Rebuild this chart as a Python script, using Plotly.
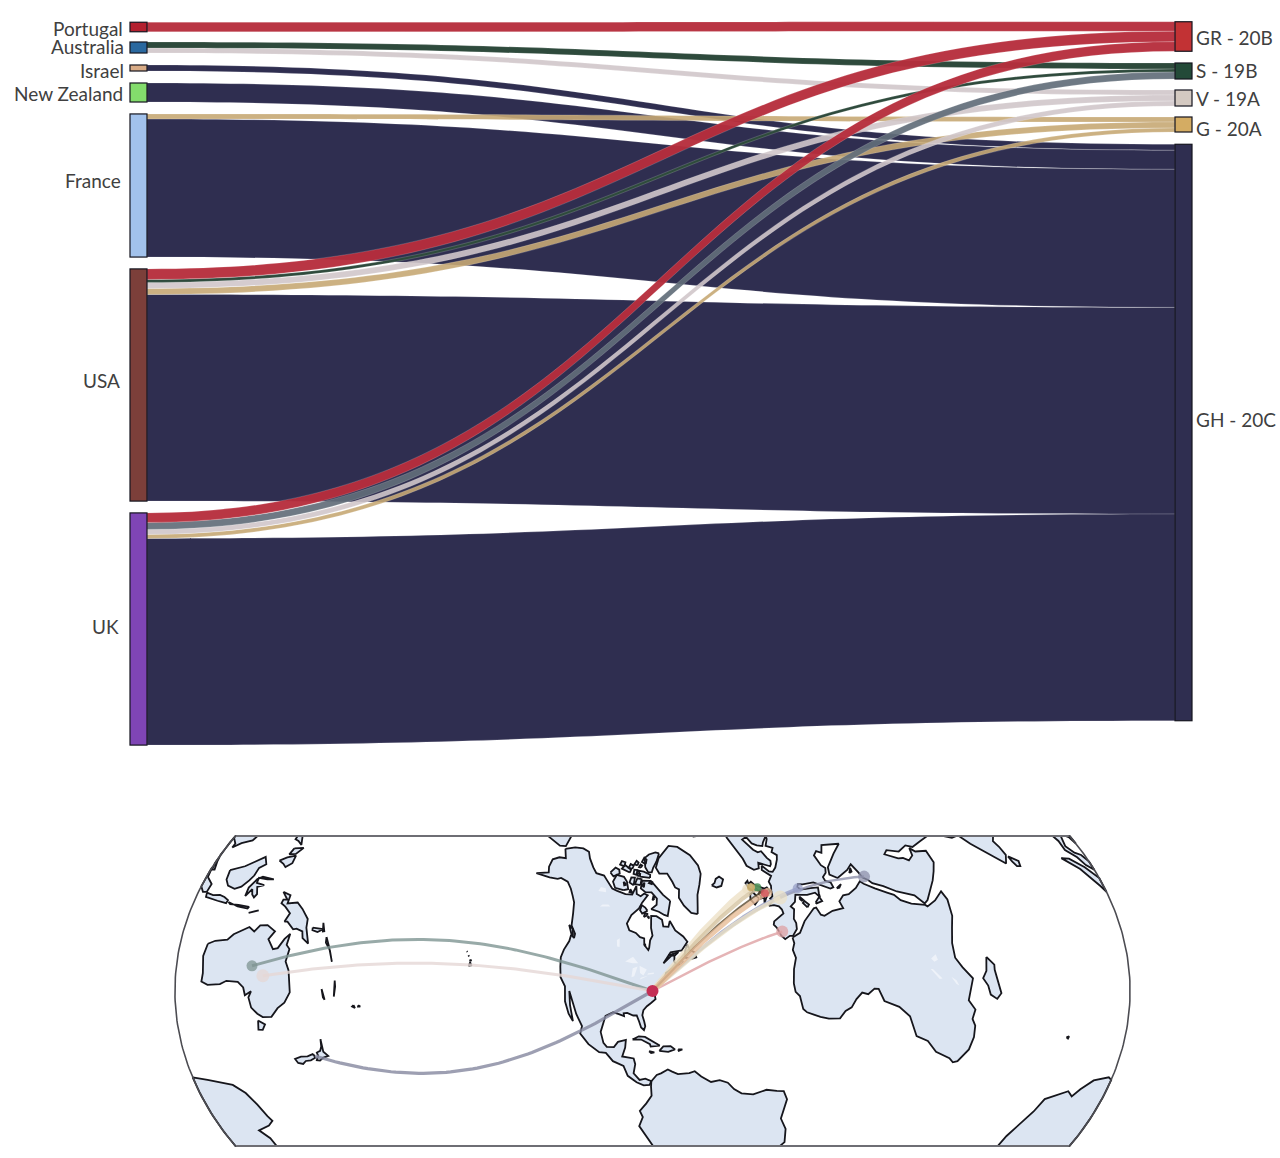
import numpy as np
import plotly.graph_objects as go

W, H = 1280, 1158

# sankey data
NODE_NAMES = ["Portugal", "Australia", "Israel", "New Zealand", "France", "USA", "UK",
              "GR - 20B", "S - 19B", "V - 19A", "G - 20A", "GH - 20C"]
NODE_COLORS = ["#b3202f", "#2a689f", "#d8ab86", "#83dc6c", "#a2c2ec", "#7c3f3a", "#7f45b5",
               "#c23234", "#234a38", "#d4c9c1", "#d4ac63", "#2f2e50"]
NODE_TOPS = [22, 42, 65, 83, 114, 269, 513, 22, 63, 90, 117, 144]
NODE_BOTTOMS = [32, 53, 71, 102, 257, 501, 745, 51, 79, 106, 132, 721]
LABEL_Y = [28, 47, 71, 94, 180, 380, 626, 37, 71, 99, 128, 420]
LABEL_X = [125, 126, 126, 125, 123, 122, 121, 1194, 1194, 1194, 1194, 1194]

LINK_SOURCE = [2, 3, 4, 5, 6,  4, 5, 6,  1, 5, 6,  1, 5, 6,  0, 5, 6]
LINK_TARGET = [11, 11, 11, 11, 11,  10, 10, 10,  9, 9, 9,  8, 8, 8,  7, 7, 7]
LINK_VALUE = [6, 19, 138, 206.5, 206.5,  5, 6, 4,  5, 6, 5,  6, 3, 7,  9.5, 10.5, 9.5]
LINK_COLOR = (["#2f2e50"] * 5 + ["rgba(198,168,116,0.9)"] * 3 + ["rgba(208,198,202,0.9)"] * 3
              + ["#2e4a3c", "#2e4a3c", "rgba(98,110,122,0.92)"] + ["rgba(182,46,60,0.96)"] * 3)

# map data: origin, destinations and flow colours
ORIGIN = (-77.0, 38.0)
DEST_LON = [134.5, 140.3, 174.5, -8.0, 35.0, 12.0, 2.5, -7.0, -3.0, -2.0, 0.0]
DEST_LAT = [-25.0, -26.5, -40.5, 39.5, 31.0, 45.0, 47.5, 57.0, 55.0, 53.0, 51.5]
DEST_COLORS = ["#7f9593", "#e6d8d6", "#85889f", "#dfa2a4", "#8f92ac", "#98a0c8", "#ece2c8",
               "#eee2c8", "#d6c5a3", "#5a4a30", "#e8bd98"]
DEST_WIDTHS = [3, 3, 3.2, 2.5, 2.5, 3, 4, 6, 4, 2, 5]
DEST_DOT_SIZES = [11, 13, 4, 12, 12, 10, 14, 10, 8, 6, 9]
UK_DOT_LON = [-2.0, -1.5, -4.5]
UK_DOT_LAT = [55.0, 52.0, 56.5]
UK_DOT_COLORS = ["#3f8a50", "#d2525a", "#c8a860"]

# coastlines (lon, lat)
AUSTRALIA = [(114,-22),(113.5,-26),(115,-31.5),(115,-34.3),(118,-35),(123.5,-33.9),(126,-32.3),(131,-31.5),(134,-32.6),(135.7,-34.8),(137.8,-32.8),(137.5,-35),(140,-37.8),(143.5,-38.8),(146.3,-39),(150,-37.5),(151.2,-33.8),(153,-31),(153.3,-27),(151,-23.5),(149,-21),(146.3,-19),(145.3,-15),(143.5,-14.3),(142.5,-10.8),(141.6,-13),(141,-16.5),(139.5,-17.5),(136,-15.3),(136.8,-12.3),(133,-11.5),(130.5,-12.4),(129.5,-14.8),(127,-14),(125,-15.5),(122.5,-17.5),(121,-19.6),(116.5,-20.7)]
TASMANIA = [(144.7,-40.8),(148.3,-40.9),(148,-43),(146,-43.6)]
AFRICA = [(-5.9,35.8),(-2,35.2),(3,36.8),(10,37.3),(11,36.9),(10.2,34.3),(11,33.2),(15,32.3),(19,30.3),(20,32.5),(23,32.7),(25,31.6),(29,31),(32.3,31.2),(32.5,29.9),(34,26.5),(36,23),(37.2,21),(37.5,18.5),(39.5,15.5),(43,12.3),(43.3,11.5),(47,11.2),(51.2,11.9),(50.8,9),(48,4.5),(45,1.8),(41.5,-1.8),(39.2,-6),(39.5,-10),(40.6,-15),(35,-20),(35.5,-24),(32.8,-26),(32.5,-28.5),(30,-31.5),(26,-34),(20,-34.8),(18.3,-34),(18,-32),(15,-27),(14.5,-22),(12,-18),(13.7,-11),(12.3,-6),(9,-1),(9.7,3.5),(8.5,4.5),(5.5,4.5),(4,6.3),(1,5.9),(-2,4.8),(-4.5,5.2),(-7.5,4.4),(-11,6.7),(-13.3,9),(-15,11),(-16.8,13),(-17.5,14.7),(-16.3,19),(-17,21),(-16,23.7),(-13,27.5),(-9.8,30),(-9,32.7),(-6.8,34)]
MADAGASCAR = [(49.3,-12),(50.4,-15.5),(49.5,-17),(47.5,-24.7),(45,-25.5),(43.5,-23),(44.3,-20),(44,-17),(46.5,-15.7)]
EURASIA = [(104.8,8.7),(104.8,10),(102.5,12),(100.8,13.4),(99.9,11),(99.3,9.2),(100.5,7),(102,6.2),(103.4,4),(104.2,1.4),(103.4,1.4),(101.3,2.9),(100.3,5.5),(98.3,8),(98.6,11),(97.6,16.5),(95,15.8),(94.3,17.5),(92.3,20.7),(90.5,22.5),(88,21.7),(86.5,20),(82.3,16.5),(80.2,15),(80.2,13),(79.8,10.3),(77.5,8.1),(76,11),(74.8,13),(73.3,17),(72.8,20.5),(70.5,20.8),(69,22.3),(67,24.8),(61.5,25.2),(57.5,25.6),(56.3,27.2),(52.5,27.5),(50,30.2),(48,30),(50,26.5),(51.3,25.6),(52,24),(54.5,24.2),(56.3,26),(56.6,24.3),(59.5,22.5),(57.8,19),(55,17.3),(52,15.7),(45,12.8),(43.3,12.7),(42.7,16.5),(39,21),(37,25),(35,28),(34.9,29.5),(34.3,31.2),(35,33),(36,36),(33,36),(30.5,36.5),(27.5,37),(26.5,39.5),(29,41),(31.5,41.2),(36,41.5),(41.5,41.5),(38,44.5),(37,45.4),(33.5,44.5),(33,46),(30.5,46),(28,43),(28,41.5),(26.2,40.7),(23.8,40.7),(23,39.5),(24,38),(23,36.5),(21.7,37),(19.4,41),(19,42.2),(15,44.5),(13.7,45.7),(12.3,45.3),(12.5,44),(16,41.9),(18.5,40.2),(16.6,38.9),(15.7,38),(15.7,40),(12.5,41.5),(10.5,43),(8.8,44.4),(6,43.1),(3,43.2),(3.2,41.8),(0,39.8),(-0.5,38.3),(-2,36.8),(-5.3,36.1),(-6.4,36.8),(-9,37),(-9.5,38.7),(-8.9,41.5),(-9.2,43),(-8,43.7),(-2,43.4),(-1.2,44.6),(-1.2,46),(-2.6,47.4),(-4.8,48.4),(-1.6,48.7),(-1.6,49.7),(0.2,49.6),(2,51),(4,52),(5,53.3),(8.5,53.7),(8.2,57),(10.5,57.7),(10,55),(11,54),(14,54),(18.5,54.7),(21,55.3),(21.2,57),(24,57.2),(23.5,59.2),(28,59.5),(30,60),(25,60.2),(22.5,60),(21.5,61.5),(21.5,63),(25,65),(22,65.8),(17.5,62),(17.2,60.5),(18.8,59.8),(16.5,57.5),(16,56.2),(14.3,55.6),(13,55.5),(11,59),(8,58),(5.5,59),(5,61.5),(8,63.5),(14,67.5),(20,70),(26,71),(31,70),(41,67),(40,65),(35,64.5),(37.5,64),(44,66),(44,68),(54,68.5),(60,69),(68,68.5),(67,71),(70,73),(73,71),(75,72),(80,73),(88,75.5),(105,77.7),(113,74),(125,73.5),(140,72.5),(160,70),(180,69),(-170,66),(-172,64.5),(179,62.5),(170,60),(163,60),(162,55),(156.5,51),(156,57),(163,62),(155,59.3),(143,59.3),(137,54),(141,53),(140,48.5),(135,44),(130,42.5),(127.5,39.8),(129.5,37),(129,35.2),(126.3,34.5),(126.5,37.5),(124.5,40),(121.5,40.8),(118,39),(122.5,37),(120,34.5),(122,31),(121.5,28),(118,24.5),(114,22.5),(110,21),(106,20),(105.7,18.5),(108,16),(109.3,13),(109,11.3),(106.5,10.2)]
NORTH_AMERICA = [(-168,65.6),(-166,68.3),(-162,70.3),(-156.5,71.3),(-150,70.5),(-141,69.6),(-135,69),(-128,70),(-124,69.5),(-115,68),(-110,68),(-102,68),(-96,68.5),(-94,71.5),(-92,69),(-88,68.5),(-85,69.5),(-81.5,69),(-86,66.5),(-88,64.5),(-93,62),(-95,59),(-92.5,57),(-88,56.5),(-85,55.3),(-82.3,55),(-82,52.9),(-79.5,51.3),(-79,52),(-78.5,54.5),(-77,56),(-78,58.5),(-78,62.4),(-74,62.3),(-70,61),(-69.5,58.8),(-66,58.5),(-64.5,60.3),(-61.8,57),(-57.5,54.5),(-55.7,52.5),(-58,51.2),(-60,50.2),(-66.5,50.2),(-69,48.5),(-71,46.9),(-66,49.2),(-64.5,49),(-65,47),(-64,46),(-61,45.5),(-60,46.5),(-63.5,44.6),(-66,43.8),(-66,45),(-67,44.8),(-70,43.7),(-70.8,42),(-70,41.7),(-74,40.6),(-74,39.5),(-75.5,38.5),(-76,37),(-75.6,35.3),(-77.8,34),(-79.5,33),(-81,31.7),(-81.4,30),(-80.5,28),(-80,26.5),(-80.5,25.2),(-81.7,26),(-82.7,28),(-83.8,29.8),(-85.3,29.7),(-88,30.3),(-89.5,30),(-89.2,29.1),(-91.5,29.5),(-94,29.7),(-97,28),(-97.3,25.8),(-97.8,22.5),(-96,19.2),(-94.5,18.2),(-91.8,18.6),(-90.5,20.5),(-87.5,21.5),(-87.5,19),(-88.3,16),(-84,15.8),(-83.3,14),(-83.7,11),(-81.5,9),(-79.5,9.5),(-77.4,8.7),(-78,7.5),(-80,7.3),(-82.5,8.2),(-85.7,10),(-87.5,13),(-91.5,14),(-94.5,16.2),(-97,15.9),(-101.5,17.5),(-105.5,20),(-105.5,22.5),(-109,25.6),(-112.5,29.5),(-114.7,31.7),(-112.5,27.5),(-110,24),(-109.5,23),(-112,24.7),(-115,28),(-117.2,32.5),(-120.5,34.5),(-122.5,37.5),(-124.2,40.3),(-124.5,43),(-124,46.3),(-124.7,48.4),(-122.5,48),(-123,49.3),(-127,51),(-130,54.5),(-133.5,57.5),(-137,58.8),(-141,60),(-146,60.8),(-151,60),(-152,59),(-156,57.3),(-163,54.8),(-159,58),(-162,59),(-165,61),(-164,63),(-161,64.5)]
SOUTH_AMERICA = [(-77.4,8.7),(-75.5,10.7),(-74,11.2),(-71.5,12.3),(-70,11.5),(-68,10.5),(-64,10.3),(-62,10.6),(-60,8.5),(-57,6),(-54,5.8),(-51.5,4.2),(-50,1.5),(-48,-0.7),(-44.5,-2.5),(-40,-2.9),(-37,-4.8),(-35,-6),(-35,-9),(-37,-11.5),(-39,-14),(-39,-18),(-41,-22),(-44,-23),(-48,-25.5),(-48.6,-28.5),(-52,-33),(-71.5,-32),(-70.3,-20),(-76,-14),(-81,-6),(-80,-3),(-81,-1),(-79,1.5),(-77.3,4),(-77.5,7)]
ANTARCTICA = [(-77,-73),(-60,-64),(-58,-64),(-62,-70),(-60,-75),(-35,-78),(-20,-73),(-5,-71),(15,-70),(30,-69.5),(40,-68.5),(50,-66.5),(58,-67.3),(68,-67.7),(71,-70),(78,-68.5),(88,-66.5),(100,-66),(115,-66.5),(125,-66.5),(135,-66),(145,-67),(155,-69),(165,-71),(170,-71.5),(170,-74),(165,-78),(180,-78),(-160,-79),(-120,-74),(-100,-72)]
GREENLAND = [(-44,59.9),(-48,61),(-51.5,64),(-53.5,67),(-51,69.5),(-54,70.5),(-55,72.5),(-58,75.5),(-68,76),(-72,78),(-65,81),(-50,82.5),(-32,83.5),(-20,81.5),(-18,77),(-21,73),(-25,70.5),(-32,68),(-38,65.5),(-42,62)]
ICELAND = [(-24,65.5),(-22,64),(-18.5,63.4),(-14,64.5),(-14.7,66),(-18,66.2),(-21,65.5)]
SVALBARD = [(11,79),(16,76.7),(24,78),(27,80),(18,80.5)]
GREAT_BRITAIN = [(-5.5,50),(-3,50.7),(1.4,51.2),(1.7,52.7),(0.3,53),(-1.5,55),(-2,56),(-2,57.6),(-4,57.7),(-3,58.6),(-5,58.6),(-6,56.8),(-5,55),(-3.2,54.9),(-3,53.5),(-4.5,53.3),(-4.2,52.3),(-5.2,51.8),(-3.5,51.3)]
IRELAND = [(-6,52.2),(-10,51.8),(-10,54),(-8,55.2),(-6,55),(-6,53)]
MEDITERRANEAN_ISLES = [
    [(8.3,39),(9.7,39.2),(9.5,41),(8.3,41)], [(8.7,41.5),(9.5,41.5),(9.4,43),(8.7,42.5)],
    [(12.5,38),(15.5,38.2),(15,36.7),(12.5,37.6)], [(23.6,35.5),(26.2,35.2),(24.5,34.95)],
    [(32.4,35),(34.5,35.6),(33.5,34.7)],
]
CANADIAN_ISLES = [
    [(-61.5,66.7),(-64,63.5),(-65.5,62),(-68,62.5),(-72,63.7),(-78,64.6),(-73.5,66),(-73,68),(-78,70),(-84,70),(-89,71),(-89,73.5),(-85,73.7),(-80,73.7),(-76,72.8),(-71,71),(-67,69)],
    [(-105,69),(-101,69.8),(-105,72),(-110,73),(-118,72.5),(-117.5,70),(-113,68.6)],
    [(-125,72),(-120,71.5),(-116,73.3),(-119,74.3),(-124,74.2)],
    [(-62,82.5),(-70,83),(-85,82.3),(-92,81),(-88,78),(-83,76.5),(-78,76.5),(-76,78),(-70,80)],
    [(-80,74.7),(-92,74.7),(-96,76.5),(-89,76.5),(-80,75.7)],
    [(-90,72),(-96,72),(-95,74),(-90,74)], [(-97,71.5),(-102,72),(-102,73.7),(-98,74)],
    [(-106,75),(-117,75),(-116,76.5),(-106,76)], [(-81,64),(-85,63),(-87,64),(-86,65.7),(-83,65)],
    [(-96,69),(-99,69),(-99,70)], [(-88,79),(-95,79.5),(-93,81),(-88,80.5)],
    [(-59,47.7),(-55.5,46.8),(-52.8,46.8),(-53,48.5),(-55.5,49.8),(-56,51.5),(-58,50)],
    [(-123.5,48.4),(-125,48.8),(-128.3,50.7),(-125.5,50.3)],
    [(-97,75),(-101,75),(-102,76.4),(-98,76.6)], [(-93,74.8),(-96,74.8),(-96,75.6),(-93,75.6)],
    [(-116,76),(-122,75.8),(-123,77),(-118,77.3)], [(-100,78),(-105,78),(-104,79.3),(-100,79)],
    [(-94,77.6),(-97,77.6),(-96,78.6),(-93,78.4)], [(-105,76.4),(-110,76.3),(-110,77.6),(-105,77.5)],
    [(-81,62.5),(-83.5,62),(-83,63),(-81,63)], [(-79.5,61.5),(-80.5,62),(-80,62.3)],
    [(-77,72.6),(-81,73),(-79,73.7),(-77,73.3)], [(-81,53),(-82,53.2),(-81.5,52.8)],
    [(-68,49.3),(-62,49.9),(-64,49.1)], [(-75,68),(-77,67.5),(-76,69)],
    [(-86,71.5),(-88,72),(-86,73)], [(-104,71),(-108,71.5),(-106,70.5)],
]
CARIBBEAN = [
    [(-84.9,21.9),(-82.5,23.1),(-80,23),(-75.5,20.8),(-74.2,20.2),(-77.7,19.9),(-78,20.7),(-81.5,22.1)],
    [(-74.4,18.5),(-72.8,19.9),(-70,19.8),(-68.4,18.6),(-71,18)],
    [(-78.3,18.4),(-76.3,18),(-77.5,17.8)], [(-67.2,18.5),(-65.6,18.3),(-67,18)],
]
ASIA_PACIFIC_ISLES = [
    [(95.3,5.6),(97.5,5.2),(100.5,2.2),(103.5,-1),(106,-3.2),(105.8,-5.8),(104.5,-5.8),(102,-4),(100.3,-1),(98.7,1.7)],
    [(106,-6),(108.5,-6.7),(110.8,-6.4),(112.7,-6.9),(114.5,-7.7),(114.4,-8.7),(111,-8.3),(108,-7.8),(106.4,-7.4)],
    [(115,-8.2),(116,-8.8),(119,-8.5),(122,-8.5),(123,-8.3),(122.8,-8.9),(119,-9)],
    [(124,-10),(127,-8.4),(125,-9.5)],
    [(109.2,1.5),(111.3,2.5),(113,3.2),(115,5),(117,7),(119,5),(117.7,3.5),(118,1),(117.5,-0.7),(116.3,-3),(114.5,-4),(111.7,-3.3),(110,-1.5)],
    [(119.5,-5.5),(120.4,-3),(121.5,-4.5),(122.7,-5.2),(123,-4),(121.5,-2),(123.3,-0.9),(120.5,-0.9),(120,0.7),(123,0.9),(125,1.5),(121,1.3),(119.8,0.2),(118.9,-2.8)],
    [(120.5,18.5),(122.2,18.4),(121.6,15.5),(124,13),(122,13.8),(120.7,14),(120,16)],
    [(122,7),(123.5,8.5),(125.5,9.8),(126.5,7.5),(125.5,5.8),(124,6.5)],
    [(123,11.5),(125.5,12.5),(125,10.2),(123.2,9.5)],
    [(131,-0.8),(134,-0.8),(135,-3.3),(138,-1.7),(141,-2.6),(145,-4.3),(146.5,-6.7),(148,-8.2),(150.5,-10.5),(147.5,-10),(146,-8.3),(143.5,-8.5),(142.5,-9.2),(139,-8),(138,-8.4),(138,-5.5),(135,-4.4),(133,-4),(132.8,-2.8),(134,-2.3)],
    [(148.5,-5.6),(152.2,-4.2),(151,-5.9),(149,-6.3)], [(150.8,-2.6),(153,-4.5),(152.6,-4.8)],
    [(155,-5.5),(156,-7),(159,-8.2),(162,-10.7),(160.5,-9.5),(158,-7.5)],
    [(166.7,-15),(168,-16.5),(169.5,-19.5),(168.3,-17.5)], [(164,-20),(167,-22.3),(166,-22)],
    [(177.5,-17.5),(178.5,-18),(177.3,-18.2)], [(179,-16.5),(179.9,-16.4),(179.2,-16.9)],
    [(-156,20.2),(-155,19.7),(-155.7,19),(-156,19.7)], [(-156.6,21),(-156,20.8),(-156.4,20.6)],
    [(-158.2,21.5),(-157.7,21.4),(-158,21.7)], [(-159.7,22.1),(-159.3,22.1),(-159.5,21.9)],
    [(172.7,-34.5),(175,-36.5),(176,-37.6),(178.5,-37.7),(177,-39.5),(176.5,-41),(175.2,-41.6),(174.8,-39.9),(173.8,-39.3),(174.7,-38),(174.3,-36.5)],
    [(172.7,-40.5),(174.2,-41.2),(173,-43),(171.2,-44.3),(170.7,-45.8),(168.5,-46.6),(166.5,-46),(168.5,-44),(171,-42.5)],
    [(80,9.7),(81.8,7.5),(81,6),(80,6.3),(79.8,8)], [(69,-49),(70.5,-49),(69.7,-49.6)],
]
LAKES = [
    [(-92,46.8),(-88,48.7),(-84.8,46.8),(-88,46.6)], [(-87.7,42),(-86.3,42.5),(-85,45.7),(-87.5,45)],
    [(-84,46),(-80,45),(-81.7,43),(-83.5,43.7)], [(-83.3,41.6),(-79,42.8),(-79,43),(-83,42.2)],
    [(-79.7,43.3),(-76.3,43.5),(-76.3,44),(-79.3,43.8)], [(-98,51),(-96.5,51),(-97.5,53.8),(-99,53)],
    [(-117,61),(-110,62.5),(-112,62.8),(-116,62)], [(-124,65),(-118,66),(-120,67),(-124,66.5)],
    [(31.7,-1),(34,-1),(33.5,-2.8),(32,-2.5)], [(29.3,-3.5),(30,-4),(31,-8.5),(30,-8)],
    [(34,-10),(35,-12),(34.8,-14),(34.2,-13)],
]
LAND = [AUSTRALIA, TASMANIA, AFRICA, MADAGASCAR, EURASIA, NORTH_AMERICA, SOUTH_AMERICA, ANTARCTICA,
        GREENLAND, ICELAND, SVALBARD, GREAT_BRITAIN, IRELAND] + MEDITERRANEAN_ISLES + CANADIAN_ISLES + CARIBBEAN + ASIA_PACIFIC_ISLES


def rotate(lon, lat):
    # same rotation as a geo subplot centred on ORIGIN
    lam = np.radians(np.asarray(lon, float) - ORIGIN[0])
    phi = np.radians(np.asarray(lat, float))
    p0 = np.radians(ORIGIN[1])
    x, y, z = np.cos(phi) * np.cos(lam), np.cos(phi) * np.sin(lam), np.sin(phi)
    return np.arctan2(y, x * np.cos(p0) + z * np.sin(p0)), np.arcsin(np.clip(-x * np.sin(p0) + z * np.cos(p0), -1, 1))


def natural_earth(lam, phi):
    p2 = phi * phi
    p4 = p2 * p2
    x = lam * (0.8707 - 0.131979 * p2 + p4 * (-0.013791 + p4 * (0.003971 * p2 - 0.001529 * p4)))
    y = phi * (1.007226 + p2 * (0.015085 + p4 * (-0.044475 + 0.028874 * p2 - 0.005916 * p4)))
    return x, y


def project_ring(ring):
    lam, phi = rotate(*zip(*ring))
    if np.abs(np.diff(np.append(lam, lam[0]))).max() < np.pi:
        x, y = natural_earth(np.append(lam, lam[0]), np.append(phi, phi[0]))
        return [(x, y)]
    # ring crosses the map edge: one piece per side, running along the edge where it is cut
    out = []
    for side in (1, -1):
        inside = side * lam >= 0
        if not inside.any():
            continue
        start = int(np.argmax(inside))
        lam2, phi2 = np.roll(lam, -start), np.roll(phi, -start)
        keep = np.roll(inside, -start)
        ls, ps = [], []
        i = 0
        while i < len(lam2):
            if keep[i]:
                ls.append(lam2[i])
                ps.append(phi2[i])
                i += 1
            else:
                j = i
                while j + 1 < len(lam2) and not keep[j + 1]:
                    j += 1
                edge = np.linspace(phi2[i], phi2[j], 40)
                ls += [side * np.pi] * 40
                ps += list(edge)
                i = j + 1
        ls.append(ls[0])
        ps.append(ps[0])
        out.append(natural_earth(np.array(ls), np.array(ps)))
    return out


def rings_to_xy(rings):
    xs, ys = [], []
    for ring in rings:
        for x, y in project_ring(ring):
            xs += list(x) + [None]
            ys += list(y) + [None]
    return xs, ys


def geodesic(lon0, lat0, lon1, lat1, n=80):
    def vec(lon, lat):
        a, b = np.radians(lon), np.radians(lat)
        return np.array([np.cos(b) * np.cos(a), np.cos(b) * np.sin(a), np.sin(b)])
    p, q = vec(lon0, lat0), vec(lon1, lat1)
    w = np.arccos(np.clip(p @ q, -1, 1))
    t = np.linspace(0, 1, n)[:, None]
    pts = (np.sin((1 - t) * w) * p + np.sin(t * w) * q) / np.sin(w)
    return np.degrees(np.arctan2(pts[:, 1], pts[:, 0])), np.degrees(np.arcsin(pts[:, 2]))


fig = go.Figure()

# sankey, positions taken from the node tops and bottoms
sk_top, sk_bottom = 21, 746
sk_left, sk_right = 130, 1192
n_left = 7
node_x = [0.008] * n_left + [0.992] * (len(NODE_NAMES) - n_left)
node_y = [((t + b) / 2 - sk_top) / (sk_bottom - sk_top) for t, b in zip(NODE_TOPS, NODE_BOTTOMS)]
fig.add_trace(go.Sankey(
    arrangement="fixed",
    domain=dict(x=[sk_left / W, sk_right / W], y=[1 - sk_bottom / H, 1 - sk_top / H]),
    node=dict(label=[""] * len(NODE_NAMES), color=NODE_COLORS, x=node_x, y=node_y, pad=12, thickness=17,
              line=dict(color="#15151f", width=1.2), hoverinfo="skip"),
    link=dict(source=LINK_SOURCE, target=LINK_TARGET, value=LINK_VALUE, color=LINK_COLOR,
              line=dict(color="rgba(255,255,255,0.35)", width=0.5), hoverinfo="skip"),
))

for name, x, y in zip(NODE_NAMES, LABEL_X, LABEL_Y):
    fig.add_annotation(text=name, x=x / W, y=1 - y / H, xref="paper", yref="paper", showarrow=False,
                       xanchor="right" if x < W / 2 else "left", yanchor="middle",
                       font=dict(family="Lato", size=19, color="#404040"))

# map, drawn on hidden axes with the natural earth projection
scale = 174.6
cx, cy = 652.5, 991
half_h = 156 / scale
half_w = 2.76
x_dom = [(cx - half_w * scale) / W, (cx + half_w * scale) / W]
y_dom = [1 - (cy + half_h * scale) / H, 1 - (cy - half_h * scale) / H]
axis = dict(visible=False, fixedrange=True)
fig.update_layout(
    xaxis=dict(domain=x_dom, range=[-half_w, half_w], **axis),
    yaxis=dict(domain=y_dom, range=[-half_h, half_h], **axis),
)

land_x, land_y = rings_to_xy(LAND)
fig.add_trace(go.Scatter(x=land_x, y=land_y, mode="lines", fill="toself", fillcolor="#dce5f2",
                         line=dict(color="#16161c", width=1.8), hoverinfo="skip", showlegend=False))
lake_x, lake_y = rings_to_xy(LAKES)
fig.add_trace(go.Scatter(x=lake_x, y=lake_y, mode="lines", fill="toself", fillcolor="rgba(255,255,255,0.5)",
                         line=dict(width=0), hoverinfo="skip", showlegend=False))

# map frame: curved sides plus the cut at top and bottom
lat_cut = np.radians(50.85)
frame_phi = np.linspace(-lat_cut, lat_cut, 80)
fx, fy = natural_earth(np.full(80, np.pi), frame_phi)
fig.add_trace(go.Scatter(x=list(fx) + [None] + list(-fx), y=list(fy) + [None] + list(fy), mode="lines",
                         line=dict(color="#4c4c52", width=1.6), hoverinfo="skip", showlegend=False))
fig.add_trace(go.Scatter(x=[-fx[0], fx[0], None, -fx[-1], fx[-1]], y=[fy[0], fy[0], None, fy[-1], fy[-1]], mode="lines",
                         line=dict(color="#6e6e74", width=4), hoverinfo="skip", showlegend=False))

for lon, lat, color, width, dot in zip(DEST_LON, DEST_LAT, DEST_COLORS, DEST_WIDTHS, DEST_DOT_SIZES):
    g_lon, g_lat = geodesic(ORIGIN[0], ORIGIN[1], lon, lat)
    lam, phi = rotate(g_lon, g_lat)
    x, y = natural_earth(lam, phi)
    fig.add_trace(go.Scatter(x=x, y=y, mode="lines", line=dict(color=color, width=width), opacity=0.8,
                             hoverinfo="skip", showlegend=False))
    fig.add_trace(go.Scatter(x=x[-1:], y=y[-1:], mode="markers", marker=dict(color=color, size=dot), opacity=0.75,
                             hoverinfo="skip", showlegend=False))

lam, phi = rotate(UK_DOT_LON, UK_DOT_LAT)
x, y = natural_earth(lam, phi)
fig.add_trace(go.Scatter(x=x, y=y, mode="markers", marker=dict(color=UK_DOT_COLORS, size=8), opacity=0.8,
                         hoverinfo="skip", showlegend=False))
lam, phi = rotate([ORIGIN[0]], [ORIGIN[1]])
x, y = natural_earth(lam, phi)
fig.add_trace(go.Scatter(x=x, y=y, mode="markers", marker=dict(color="#c42e54", size=12),
                         hoverinfo="skip", showlegend=False))

fig.update_layout(width=W, height=H, margin=dict(l=0, r=0, t=0, b=0), paper_bgcolor="white",
                  plot_bgcolor="rgba(0,0,0,0)", showlegend=False)
# page margin would push the figure 8 px off
fig.write_html("out.html", config={"displayModeBar": False}, post_script="document.body.style.margin='0';")
